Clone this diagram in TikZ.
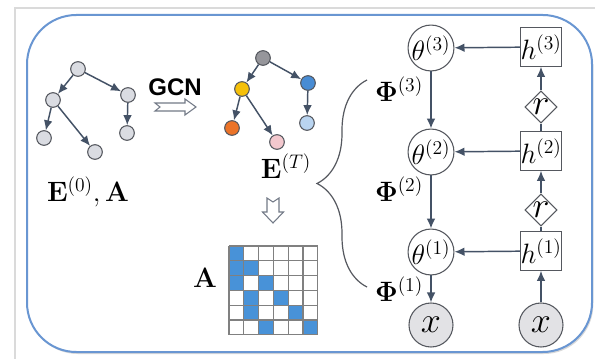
\RequirePackage{fix-cm}
\documentclass[tikz,border=0pt]{standalone}
\usepackage{amsmath}
\usepackage[no-math]{fontspec}
\newfontfamily\gcnfont{Liberation Sans}
\usetikzlibrary{arrows.meta,shapes.geometric,decorations.pathreplacing,shadows}

\definecolor{bordoblu}{RGB}{105,150,210}
\definecolor{cornice}{RGB}{218,218,218}
\definecolor{ardesia}{RGB}{68,82,102}
\definecolor{contorno}{RGB}{85,88,95}
\definecolor{grigionodo}{RGB}{218,220,226}
\definecolor{grigioscuro}{RGB}{150,150,155}
\definecolor{giallo}{RGB}{245,192,10}
\definecolor{blu}{RGB}{72,140,212}
\definecolor{arancio}{RGB}{235,115,40}
\definecolor{rosa}{RGB}{243,200,206}
\definecolor{celeste}{RGB}{185,212,240}
\definecolor{azzurro}{RGB}{72,146,216}
\definecolor{grigiooss}{RGB}{226,226,229}
\definecolor{grigiofreccia}{RGB}{115,122,135}

\begin{document}
\begin{tikzpicture}[x=0.75pt, y=-0.75pt, font=\fontsize{21}{25}\selectfont,
	freccia/.style={draw=ardesia, line width=1.1pt, -{Latex[length=7.5pt,width=6.5pt]}},
	linea/.style={draw=ardesia, line width=1.1pt},
	nodo/.style={circle, draw=contorno, line width=0.8pt, minimum size=11pt, inner sep=0pt},
	cerchio/.style={circle, draw=contorno, line width=0.8pt, minimum size=31.5pt, inner sep=0pt},
	oss/.style={cerchio, fill=grigiooss, minimum size=33pt, font=\fontsize{27}{30}\selectfont},
	scatola/.style={rectangle, draw=contorno, line width=0.8pt, minimum width=31pt, minimum height=29pt, inner sep=0pt},
	rombo/.style={diamond, draw=contorno, line width=0.8pt, minimum size=22.5pt, inner sep=0pt, fill=white, font=\fontsize{27}{30}\selectfont},
	vuota/.style={draw=grigiofreccia, fill=white, line width=0.8pt},
	graffa/.style={draw=contorno, line width=0.9pt, decorate, decoration={brace, amplitude=37.5pt}},
	griglia/.style={draw=gray, line width=0.8pt}]
	\useasboundingbox (0,0) rectangle (595,359);
	
	% Cornice e riquadro
	\draw[cornice, line width=1.5pt] (15,362) -- (15,8) -- (598,8);
	\draw[bordoblu, line width=1.5pt, fill=white, rounded corners=37pt,
		drop shadow={opacity=0.3, shadow xshift=1pt, shadow yshift=-1.5pt}] (27,15) rectangle (592,352);
	
	% Albero iniziale
	\node[nodo, fill=grigionodo] (a1) at (78,69) {};
	\node[nodo, fill=grigionodo] (a2) at (53,100) {};
	\node[nodo, fill=grigionodo] (a3) at (128,95) {};
	\node[nodo, fill=grigionodo] (a4) at (44,138) {};
	\node[nodo, fill=grigionodo] (a5) at (95,152) {};
	\node[nodo, fill=grigionodo] (a6) at (127,133) {};
	\node (e0) at (88,192) {$\mathbf{E}^{(0)}, \mathbf{A}$};
	
	% GCN
	\node[font=\gcnfont\bfseries\fontsize{18}{20}\selectfont] (gcn) at (175,87) {GCN};
	\draw[vuota, shift={(155,107)}] (0,-4) -- (30,-4) -- (30,-8) -- (41,0) -- (30,8) -- (30,4) -- (0,4) -- (5,0) -- cycle;
	
	% Albero dopo GCN
	\node[nodo, fill=grigioscuro] (b1) at (263,58) {};
	\node[nodo, fill=giallo] (b2) at (242,89) {};
	\node[nodo, fill=blu] (b3) at (308,83) {};
	\node[nodo, fill=arancio] (b4) at (232,128) {};
	\node[nodo, fill=rosa] (b5) at (277,142) {};
	\node[nodo, fill=celeste] (b6) at (307,123) {};
	\node (et) at (286,166) {$\mathbf{E}^{(T)}$};
	
	\foreach \p/\f in {a1/a2,a1/a3,a2/a4,a2/a5,a3/a6,b1/b2,b1/b3,b2/b4,b2/b5,b3/b6}
		\draw[freccia] (\p) -- (\f);
	
	% Matrice di adiacenza
	\draw[vuota, shift={(273,198)}] (-6,0) -- (-6,14) -- (-10.5,14) -- (0,25) -- (10.5,14) -- (6,14) -- (6,0) -- (0,4) -- cycle;
	\foreach \riga/\col in {1/1,2/1,2/2,3/1,3/3,4/2,4/4,5/2,5/5,6/3,6/6}
		\fill[azzurro] ({229+(\col-1)*14.8},{246+(\riga-1)*14.8}) rectangle ++(14.8,14.8);
	\foreach \i in {0,...,6} {
		\draw[griglia] ({229+\i*14.8},246) -- ++(0,88.8);
		\draw[griglia] (229,{246+\i*14.8}) -- ++(88.8,0);
	}
	\node (amat) at (205,278) {$\mathbf{A}$};
	
	% Graffa e parametri
	\coordinate (g3) at (367,80);
	\coordinate (g1) at (367,287);
	\draw[graffa] (g1) -- (g3);
	\node (phi3) at (399,89) {$\mathbf{\Phi}^{(3)}$};
	\node (phi2) at (399,189) {$\mathbf{\Phi}^{(2)}$};
	\node (phi1) at (399,289) {$\mathbf{\Phi}^{(1)}$};
	
	% Catena generativa
	\node[cerchio] (t3) at (431,48) {$\theta^{(3)}$};
	\node[cerchio] (t2) at (431,152) {$\theta^{(2)}$};
	\node[cerchio] (t1) at (431,252) {$\theta^{(1)}$};
	\node[oss] (x1) at (431,325) {$x$};
	
	% Catena di inferenza
	\node[scatola] (h3) at (541,47) {$h^{(3)}$};
	\node[scatola] (h2) at (541,151) {$h^{(2)}$};
	\node[scatola] (h1) at (541,251) {$h^{(1)}$};
	\node[rombo] (r2) at (541,107) {$r$};
	\node[rombo] (r1) at (541,210) {$r$};
	\node[oss] (x2) at (541,325) {$x$};
	
	\draw[freccia] (t3) -- (t2);
	\draw[freccia] (t2) -- (t1);
	\draw[freccia] (t1) -- (x1);
	\draw[freccia] (x2) -- (h1);
	\draw[linea] (h1) -- (r1);
	\draw[freccia] (r1) -- (h2);
	\draw[linea] (h2) -- (r2);
	\draw[freccia] (r2) -- (h3);
	\draw[freccia] (h3) -- (t3);
	\draw[freccia] (h2) -- (t2);
	\draw[freccia] (h1) -- (t1);
\end{tikzpicture}
\end{document}
